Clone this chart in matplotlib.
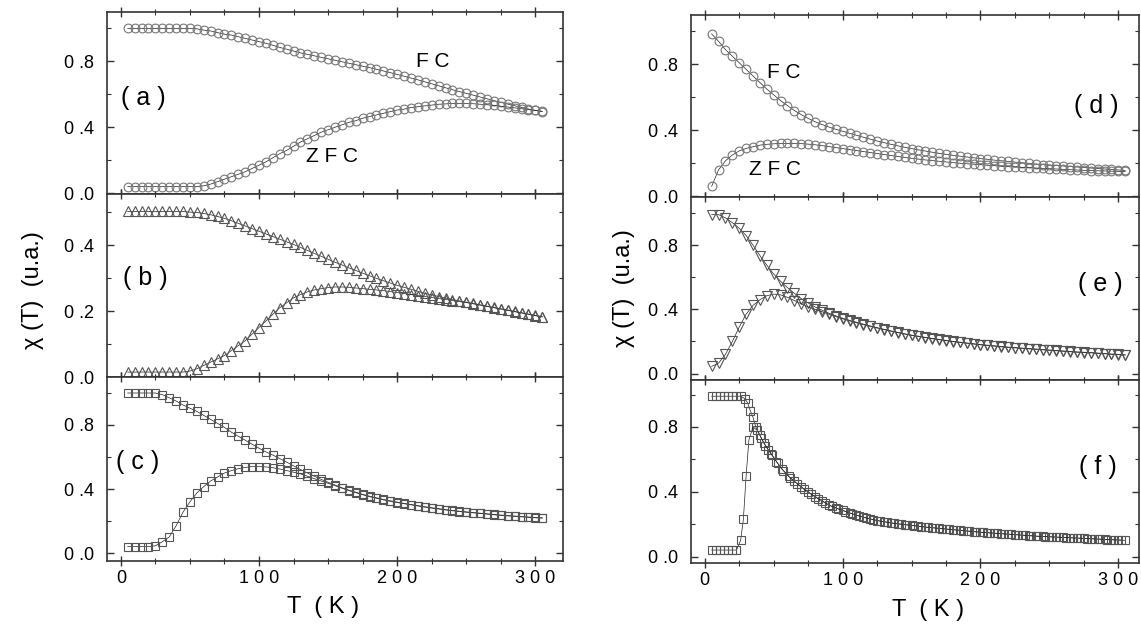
import matplotlib
matplotlib.use('Agg')
import matplotlib.pyplot as plt
import numpy as np
from matplotlib.ticker import MultipleLocator, FuncFormatter

plt.rcParams['font.family'] = ['Liberation Sans', 'DejaVu Sans']

# temperaturas de medida (K)
T = np.arange(5, 310, 5)

# (a) circulos
a_fc = [1.0, 1.0, 1.0, 1.0, 1.0, 1.0, 1.0, 1.0, 1.0, 1.0,
        0.998, 0.99, 0.985, 0.975, 0.965, 0.96, 0.95, 0.94, 0.93, 0.92,
        0.91, 0.898, 0.885, 0.874, 0.863, 0.852, 0.843, 0.834, 0.825, 0.816,
        0.807, 0.798, 0.789, 0.78, 0.771, 0.762, 0.752, 0.742, 0.732, 0.721,
        0.71, 0.699, 0.688, 0.676, 0.664, 0.652, 0.64, 0.628, 0.617, 0.606,
        0.595, 0.584, 0.573, 0.562, 0.551, 0.541, 0.531, 0.521, 0.511, 0.502,
        0.495]
a_zfc = [0.04, 0.04, 0.04, 0.04, 0.04, 0.04, 0.04, 0.04, 0.04, 0.04,
         0.04, 0.045, 0.055, 0.07, 0.085, 0.10, 0.115, 0.13, 0.15, 0.17,
         0.19, 0.215, 0.24, 0.26, 0.285, 0.31, 0.33, 0.35, 0.37, 0.385,
         0.40, 0.415, 0.43, 0.44, 0.455, 0.465, 0.475, 0.485, 0.495, 0.505,
         0.51, 0.52, 0.525, 0.53, 0.535, 0.54, 0.542, 0.545, 0.545, 0.545,
         0.543, 0.54, 0.537, 0.533, 0.528, 0.523, 0.518, 0.513, 0.508, 0.503,
         0.497]

# (b) triangulos
b_fc = [0.502, 0.502, 0.502, 0.502, 0.502, 0.502, 0.502, 0.502, 0.502, 0.5,
        0.499, 0.496, 0.492, 0.487, 0.481, 0.474, 0.466, 0.458, 0.45, 0.442,
        0.434, 0.426, 0.418, 0.41, 0.402, 0.393, 0.384, 0.375, 0.366, 0.357,
        0.348, 0.34, 0.331, 0.323, 0.315, 0.307, 0.299, 0.292, 0.285, 0.278,
        0.272, 0.266, 0.26, 0.254, 0.249, 0.244, 0.239, 0.235, 0.231, 0.227,
        0.223, 0.219, 0.215, 0.211, 0.207, 0.203, 0.199, 0.195, 0.191, 0.187,
        0.183]
b_zfc = [0.015, 0.015, 0.015, 0.015, 0.015, 0.015, 0.015, 0.015, 0.015, 0.018,
         0.025, 0.035, 0.045, 0.055, 0.065, 0.08, 0.095, 0.11, 0.13, 0.15,
         0.17, 0.19, 0.21, 0.225, 0.24, 0.25, 0.258, 0.264, 0.268, 0.271,
         0.273, 0.273, 0.272, 0.27, 0.268, 0.266, 0.264, 0.262, 0.259, 0.256,
         0.253, 0.25, 0.247, 0.244, 0.241, 0.238, 0.235, 0.232, 0.229, 0.226,
         0.222, 0.218, 0.214, 0.21, 0.206, 0.202, 0.198, 0.194, 0.19, 0.186,
         0.182]

# (c) cuadrados
c_fc = [1.0, 1.0, 1.0, 1.0, 1.0, 0.99, 0.97, 0.95, 0.925, 0.905,
        0.885, 0.86, 0.835, 0.81, 0.785, 0.755, 0.73, 0.705, 0.68, 0.655,
        0.632, 0.612, 0.59, 0.568, 0.545, 0.522, 0.5, 0.48, 0.46, 0.442,
        0.425, 0.408, 0.393, 0.38, 0.367, 0.355, 0.345, 0.335, 0.326, 0.318,
        0.31, 0.303, 0.296, 0.289, 0.283, 0.277, 0.271, 0.266, 0.261, 0.257,
        0.253, 0.249, 0.245, 0.241, 0.237, 0.234, 0.231, 0.228, 0.225, 0.222,
        0.22]
c_zfc = [0.04, 0.04, 0.04, 0.04, 0.045, 0.07, 0.1, 0.17, 0.255, 0.32,
         0.375, 0.415, 0.45, 0.475, 0.5, 0.515, 0.527, 0.535, 0.54, 0.54,
         0.538, 0.533, 0.525, 0.515, 0.505, 0.495, 0.48, 0.465, 0.45, 0.436,
         0.421, 0.405, 0.39, 0.377, 0.364, 0.352, 0.342, 0.332, 0.323, 0.315,
         0.308, 0.301, 0.294, 0.287, 0.281, 0.275, 0.269, 0.264, 0.259, 0.255,
         0.251, 0.247, 0.243, 0.239, 0.235, 0.232, 0.229, 0.226, 0.223, 0.22,
         0.218]

# (d) circulos
d_fc = [0.985, 0.94, 0.89, 0.85, 0.81, 0.77, 0.73, 0.69, 0.65, 0.615,
        0.58, 0.55, 0.52, 0.495, 0.472, 0.452, 0.435, 0.42, 0.406, 0.394,
        0.382, 0.37, 0.358, 0.346, 0.335, 0.325, 0.315, 0.306, 0.297, 0.289,
        0.281, 0.274, 0.267, 0.26, 0.254, 0.248, 0.243, 0.238, 0.233, 0.228,
        0.224, 0.219, 0.215, 0.211, 0.207, 0.203, 0.199, 0.195, 0.192, 0.189,
        0.186, 0.183, 0.18, 0.177, 0.174, 0.171, 0.168, 0.165, 0.162, 0.159,
        0.156]
d_zfc = [0.06, 0.16, 0.215, 0.25, 0.275, 0.29, 0.30, 0.31, 0.315, 0.318,
         0.32, 0.32, 0.32, 0.319, 0.316, 0.312, 0.307, 0.301, 0.295, 0.289,
         0.283, 0.277, 0.271, 0.265, 0.259, 0.253, 0.247, 0.241, 0.235, 0.23,
         0.225, 0.22, 0.216, 0.212, 0.208, 0.204, 0.2, 0.197, 0.194, 0.191,
         0.188, 0.185, 0.182, 0.179, 0.177, 0.175, 0.173, 0.171, 0.169, 0.167,
         0.165, 0.163, 0.161, 0.159, 0.157, 0.155, 0.154, 0.153, 0.152, 0.151,
         0.15]

# (e) triangulos
e_fc = [0.99, 0.99, 0.97, 0.94, 0.905, 0.86, 0.8, 0.735, 0.675, 0.62,
        0.575, 0.535, 0.5, 0.467, 0.44, 0.415, 0.395, 0.376, 0.36, 0.345,
        0.332, 0.32, 0.308, 0.297, 0.286, 0.276, 0.266, 0.257, 0.248, 0.24,
        0.233, 0.226, 0.219, 0.213, 0.207, 0.201, 0.196, 0.191, 0.186, 0.181,
        0.177, 0.173, 0.169, 0.165, 0.162, 0.159, 0.156, 0.153, 0.15, 0.147,
        0.144, 0.141, 0.138, 0.135, 0.133, 0.131, 0.128, 0.125, 0.122, 0.12,
        0.117]
e_zfc = [0.045, 0.065, 0.12, 0.2, 0.29, 0.37, 0.425, 0.46, 0.485, 0.495,
         0.49, 0.475, 0.455, 0.435, 0.415, 0.4, 0.386, 0.37, 0.355, 0.341,
         0.328, 0.316, 0.305, 0.294, 0.284, 0.274, 0.264, 0.255, 0.246, 0.238,
         0.231, 0.224, 0.217, 0.211, 0.205, 0.199, 0.194, 0.189, 0.184, 0.179,
         0.175, 0.171, 0.167, 0.163, 0.16, 0.157, 0.154, 0.151, 0.148, 0.145,
         0.142, 0.139, 0.136, 0.133, 0.131, 0.129, 0.126, 0.123, 0.12, 0.118,
         0.115]

# (f) cuadrados, pasos de temperatura propios
f_T_fc = [5, 8, 11, 14, 17, 20, 23, 26, 29, 31, 33, 35, 37, 40, 43, 46, 49,
          53, 57, 61, 65] + list(range(70, 310, 5))
f_fc = [0.99, 0.99, 0.99, 0.99, 0.99, 0.99, 0.99, 0.99,
        0.975, 0.95, 0.9, 0.86, 0.8, 0.75, 0.7, 0.66, 0.625, 0.575, 0.53, 0.495, 0.465,
        0.43, 0.4, 0.37, 0.345, 0.318, 0.3, 0.285, 0.27, 0.255, 0.243,
        0.232, 0.222, 0.215, 0.208, 0.202, 0.197, 0.192, 0.187, 0.182, 0.178,
        0.174, 0.17, 0.166, 0.162, 0.158, 0.154, 0.15, 0.147, 0.144, 0.141,
        0.138, 0.135, 0.132, 0.129, 0.126, 0.124, 0.122, 0.12, 0.118, 0.116,
        0.114, 0.112, 0.11, 0.108, 0.106, 0.104, 0.102, 0.1]
f_T_zfc = [5, 8, 11, 14, 17, 20, 23, 26, 28, 30, 32, 35, 38, 41, 44, 48, 52,
           56] + list(range(62, 303, 5))
f_zfc = [0.04, 0.04, 0.04, 0.04, 0.04, 0.04, 0.04,
         0.1, 0.23, 0.5, 0.72, 0.8, 0.78, 0.73, 0.685, 0.635, 0.585, 0.54,
         0.485, 0.45, 0.415, 0.385, 0.358, 0.333, 0.31, 0.293, 0.278, 0.263,
         0.25, 0.238, 0.228, 0.219, 0.212, 0.205, 0.2, 0.195, 0.19, 0.185,
         0.18, 0.176, 0.172, 0.168, 0.164, 0.16, 0.156, 0.152, 0.149, 0.146,
         0.143, 0.14, 0.137, 0.134, 0.131, 0.128, 0.125, 0.123, 0.121, 0.119,
         0.117, 0.115, 0.113, 0.111, 0.109, 0.107, 0.105, 0.103, 0.101]

EDGE = '#333333'


def ytick_fmt(v, pos):
    return ('%.1f' % abs(v)).replace('.', ' .')


def xtick_fmt(v, pos):
    return ' '.join(str(int(round(v))))


def estilo(ax, ylim, major, minor, xmax, abajo):
    ax.set_xlim(-10, xmax)
    ax.set_ylim(*ylim)
    ax.xaxis.set_major_locator(MultipleLocator(100))
    ax.xaxis.set_minor_locator(MultipleLocator(25))
    ax.yaxis.set_major_locator(MultipleLocator(major))
    ax.yaxis.set_minor_locator(MultipleLocator(minor))
    ax.yaxis.set_major_formatter(FuncFormatter(ytick_fmt))
    ax.xaxis.set_major_formatter(FuncFormatter(xtick_fmt))
    ax.tick_params(axis='x', which='both', direction='inout', top=True,
                   bottom=True, color=EDGE, labelbottom=abajo, labelsize=13, pad=3)
    ax.tick_params(axis='x', which='major', length=7, width=1)
    ax.tick_params(axis='x', which='minor', length=4, width=0.8)
    ax.tick_params(axis='y', which='both', direction='in', left=True,
                   right=True, color=EDGE, labelsize=13, pad=9)
    ax.tick_params(axis='y', which='major', length=5, width=1)
    ax.tick_params(axis='y', which='minor', length=3, width=0.8)
    for s in ax.spines.values():
        s.set_color(EDGE)
        s.set_linewidth(1.2)


def curva(ax, x, y, marker, ms, mec='#555555'):
    ax.plot(x, y, color='#222222', lw=0.5, marker=marker, ms=ms,
            mfc='none', mec=mec, mew=0.8)


fig = plt.figure(figsize=(11.41, 6.30), dpi=100)

W, H = 1141, 630
def caja(x0, y0, x1, y1):
    return [x0 / W, 1 - y1 / H, (x1 - x0) / W, (y1 - y0) / H]

ax_a = fig.add_axes(caja(107, 12, 563, 194))
ax_b = fig.add_axes(caja(107, 194, 563, 377))
ax_c = fig.add_axes(caja(107, 377, 563, 561))
ax_d = fig.add_axes(caja(691, 15, 1139, 197))
ax_e = fig.add_axes(caja(691, 197, 1139, 380))
ax_f = fig.add_axes(caja(691, 380, 1139, 563))

curva(ax_a, T, a_fc, 'o', 6.3, '#777777')
curva(ax_a, T, a_zfc, 'o', 6.3, '#777777')
estilo(ax_a, (-0.005, 1.1), 0.4, 0.2, 320, False)
ax_a.text(16, 0.58, '( a )', fontsize=18, ha='center', va='center')
ax_a.text(226, 0.80, 'F C', fontsize=15, ha='center', va='center')
ax_a.text(153, 0.22, 'Z F C', fontsize=15, ha='center', va='center')

curva(ax_b, T, b_fc, '^', 6.8)
curva(ax_b, T, b_zfc, '^', 6.8)
estilo(ax_b, (0, 0.555), 0.2, 0.1, 320, False)
ax_b.text(18, 0.30, '( b )', fontsize=18, ha='center', va='center')

curva(ax_c, T, c_fc, 's', 6.2)
curva(ax_c, T, c_zfc, 's', 6.2)
estilo(ax_c, (-0.05, 1.1), 0.4, 0.2, 320, True)
ax_c.text(12, 0.57, '( c )', fontsize=18, ha='center', va='center')

curva(ax_d, T, d_fc, 'o', 6.3, '#777777')
curva(ax_d, T, d_zfc, 'o', 6.3, '#777777')
estilo(ax_d, (-0.005, 1.1), 0.4, 0.2, 315, False)
ax_d.text(284, 0.55, '( d )', fontsize=18, ha='center', va='center')
ax_d.text(57, 0.75, 'F C', fontsize=15, ha='center', va='center')
ax_d.text(51, 0.16, 'Z F C', fontsize=15, ha='center', va='center')

curva(ax_e, T, e_fc, 'v', 6.8)
curva(ax_e, T, e_zfc, 'v', 6.8)
estilo(ax_e, (-0.04, 1.1), 0.4, 0.2, 315, False)
ax_e.text(287, 0.56, '( e )', fontsize=18, ha='center', va='center')

curva(ax_f, f_T_fc, f_fc, 's', 6.2)
curva(ax_f, f_T_zfc, f_zfc, 's', 6.2)
estilo(ax_f, (-0.04, 1.09), 0.4, 0.2, 315, True)
ax_f.text(285, 0.55, '( f )', fontsize=18, ha='center', va='center')

# rotulos de ejes
fig.text(33 / W, 1 - 290 / H, 'χ (T)  (u.a.)', rotation=90, fontsize=17,
         ha='center', va='center')
fig.text(624 / W, 1 - 288 / H, 'χ (T)  (u.a.)', rotation=90, fontsize=17,
         ha='center', va='center')
fig.text(323 / W, 1 - 607 / H, 'T  ( K )', fontsize=17, ha='center', va='center')
fig.text(928 / W, 1 - 610 / H, 'T  ( K )', fontsize=17, ha='center', va='center')

fig.savefig('out.png', dpi=100)
